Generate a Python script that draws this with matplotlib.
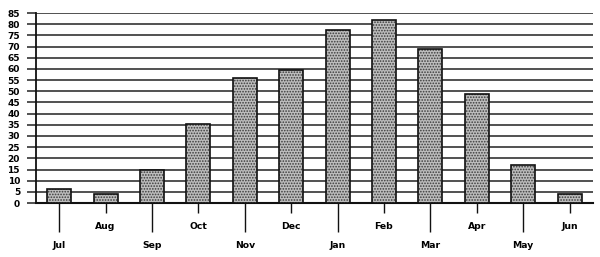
import matplotlib
matplotlib.use("Agg")
import matplotlib.pyplot as plt
import numpy as np

months = ["Jul", "Aug", "Sep", "Oct", "Nov", "Dec", "Jan", "Feb", "Mar", "Apr", "May", "Jun"]
values = [6.5, 4, 15, 35.5, 56, 59.5, 77.5, 82, 69, 49, 17, 4]
yticks = list(range(0, 90, 5))

plt.rcParams['font.family'] = ['DejaVu Sans']
plt.rcParams['font.weight'] = 'bold'
plt.rcParams['hatch.linewidth'] = 0.8

fig = plt.figure(figsize=(6, 2.57), dpi=100)
ax = fig.add_axes([0.06, 0.21, 0.928, 0.739])

x = np.arange(len(months))
ax.bar(x, values, width=0.52, color="#bdbdbd", edgecolor="#3a3a3a", hatch="......", linewidth=0, zorder=3)
ax.bar(x, values, width=0.52, fill=False, edgecolor="#111111", linewidth=1.2, zorder=4)

ax.set_xlim(-0.5, len(months) - 0.5)
ax.set_ylim(0, 85)
ax.set_yticks(yticks)
ax.set_yticklabels([str(v) for v in yticks], fontsize=6.5, fontweight='bold')
ax.yaxis.grid(True, color="#222222", linewidth=1.1, zorder=0)
ax.set_axisbelow(True)

major_idx = x[0::2]
minor_idx = x[1::2]
ax.set_xticks(major_idx)
ax.set_xticklabels([months[i] for i in major_idx], fontsize=6.7, fontweight='bold')
ax.set_xticks(minor_idx, minor=True)
ax.set_xticklabels([months[i] for i in minor_idx], minor=True, fontsize=6.7, fontweight='bold')
ax.tick_params(axis='x', which='major', length=21, width=1.0, pad=6, color="#111111")
ax.tick_params(axis='x', which='minor', length=7.2, width=1.0, pad=6.5, color="#111111")
ax.tick_params(axis='y', length=6.5, width=1.1, pad=5, color="#222222")

for s in ['top', 'right']:
    ax.spines[s].set_visible(False)
ax.spines['left'].set_linewidth(1.3)
ax.spines['bottom'].set_linewidth(1.5)
ax.spines['left'].set_color("#111111")
ax.spines['bottom'].set_color("#111111")

fig.savefig("out.png", dpi=100)
